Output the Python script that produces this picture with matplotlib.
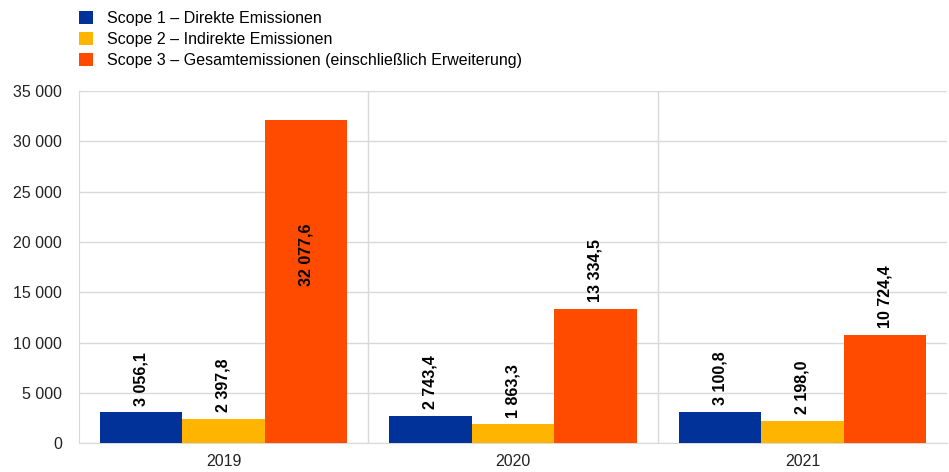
import numpy as np
import matplotlib
matplotlib.use('Agg')
import matplotlib.pyplot as plt
from matplotlib.ticker import FuncFormatter

plt.rcParams['font.family'] = ['Liberation Sans', 'DejaVu Sans']

years = ['2019', '2020', '2021']
scope1 = [3056.1, 2743.4, 3100.8]
scope2 = [2397.8, 1863.3, 2198.0]
scope3 = [32077.6, 13334.5, 10724.4]
series_names = ['Scope 1 – Direkte Emissionen',
                'Scope 2 – Indirekte Emissionen',
                'Scope 3 – Gesamtemissionen (einschließlich Erweiterung)']
colors = ['#003299', '#FFB400', '#FF4B00']

def fmt_de(v, dec=1):
    s = f'{v:,.{dec}f}'
    return s.replace(',', ' ').replace('.', ',')

fig = plt.figure(figsize=(9.49, 4.72), dpi=100)
ax = fig.add_axes([0.083, 0.061, 0.915, 0.746])

x = np.arange(len(years))
w = 0.285
handles = []
for i, (vals, c, name) in enumerate(zip([scope1, scope2, scope3], colors, series_names)):
    pos = x + (i - 1) * w
    b = ax.bar(pos, vals, w, color=c, label=name, zorder=3)
    handles.append(b)
    for px, v in zip(pos, vals):
        if v > 30000:
            ax.text(px, 15600, fmt_de(v), rotation=90, ha='center', va='bottom',
                    fontsize=11.5, fontweight='bold')
        else:
            ax.annotate(fmt_de(v), (px, v), xytext=(0, 5), textcoords='offset points',
                        rotation=90, ha='center', va='bottom', fontsize=11.5, fontweight='bold')

ax.set_xlim(-0.5, 2.5)
ax.set_ylim(0, 35000)
ax.set_yticks(np.arange(0, 35001, 5000))
ax.yaxis.set_major_formatter(FuncFormatter(lambda v, p: fmt_de(v, 0)))
ax.set_xticks(x)
ax.set_xticklabels(years)
ax.tick_params(length=0, labelsize=11.5, colors='#222222')
ax.tick_params(axis='y', pad=12)
ax.tick_params(axis='x', pad=8)
ax.grid(axis='y', color='#d9d9d9', lw=1, zorder=0)
for sep in [0.5, 1.5]:
    ax.axvline(sep, color='#d9d9d9', lw=1, zorder=0)
for side in ['top', 'right']:
    ax.spines[side].set_visible(False)
for side in ['left', 'bottom']:
    ax.spines[side].set_color('#d9d9d9')

fig.legend(handles=handles, labels=series_names, loc='upper left',
           bbox_to_anchor=(0.068, 1.008), frameon=False, fontsize=11.5,
           handlelength=0.9, handleheight=0.9, handletextpad=0.85, labelspacing=0.38)

fig.savefig('out.png', dpi=100)
